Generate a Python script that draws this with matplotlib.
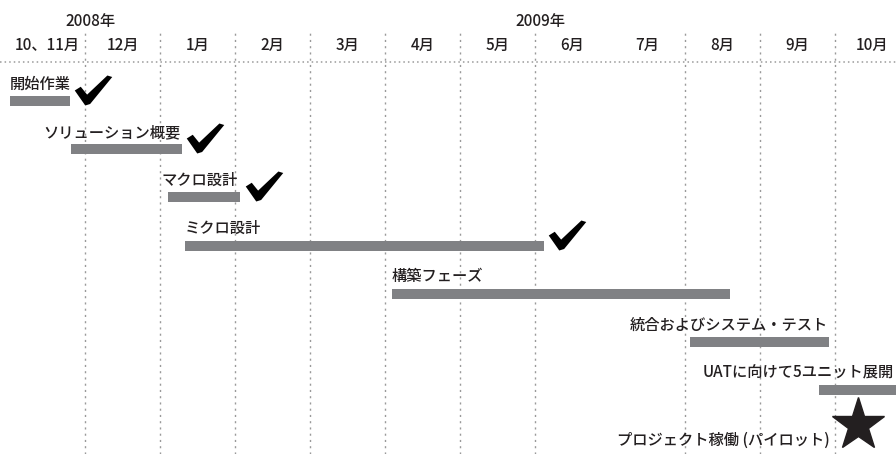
import matplotlib
matplotlib.use('Agg')
import matplotlib.pyplot as plt
from matplotlib.path import Path

plt.rcParams['font.family'] = ['Noto Sans CJK JP', 'DejaVu Sans']

# month columns (x = months since start of "10、11月" column)
months = ['10、11月', '12月', '1月', '2月', '3月', '4月', '5月', '6月', '7月', '8月', '9月', '10月']
years = ['2008年', '2009年']
year_pos = [1.07, 7.07]
grid_pos = [1, 2, 3, 4, 5, 6, 7, 9, 10, 11]

tasks = ['開始作業', 'ソリューション概要', 'マクロ設計', 'ミクロ設計', '構築フェーズ',
         '統合およびシステム・テスト', 'UATに向けて5ユニット展開']
start = [0.0, 0.81, 2.11, 2.33, 5.09, 9.07, 10.79]
end = [0.80, 2.29, 3.07, 7.12, 9.60, 10.92, 12.3]
done = [True, True, True, True, False, False, False]
label_side = ['left', 'right', 'left', 'left', 'left', 'right', 'left']

milestone = 'プロジェクト稼働 (パイロット)'
milestone_x = 11.31

# brush-like tick mark (wider than tall)
check = Path([(-0.50, 0.00), (-0.34, 0.10), (-0.17, -0.11), (0.37, 0.40),
              (0.50, 0.36), (-0.09, -0.36), (-0.22, -0.40), (-0.50, 0.00)],
             [Path.MOVETO] + [Path.LINETO] * 6 + [Path.CLOSEPOLY])

fig = plt.figure(figsize=(8.96, 4.54), dpi=100)
ax = fig.add_axes([0, 0, 1, 1])
ax.set_xlim(-10 / 75, 886 / 75)
ax.set_ylim(353 / 48.2, -101 / 48.2)
ax.axis('off')

txt = '#231f20'
bar_col = '#808184'
grid_col = '#9a9a9a'
fs = 11

# header
xt = ax.get_xaxis_transform()
for i, m in enumerate(months):
    ax.text(i + 0.5, 0.899, m, transform=xt, ha='center', va='center',
            fontsize=fs, color=txt, fontweight='medium')
for y, p in zip(years, year_pos):
    ax.text(p, 0.952, y, transform=xt, ha='center', va='center',
            fontsize=fs, color=txt, fontweight='medium')
ax.plot([0, 1], [0.863, 0.863], transform=ax.transAxes, color=grid_col,
        lw=1.1, ls=(0, (1, 2)))
for g in grid_pos:
    ax.plot([g, g], [0, 0.927], transform=xt, color=grid_col, lw=1.0, ls=(0, (1.5, 3)))

# bars
for i, (t, s, e, d, side) in enumerate(zip(tasks, start, end, done, label_side)):
    ax.barh(i, e - s, left=s, height=0.21, color=bar_col, zorder=3)
    if i == 6:
        ax.text(9.24, i - 0.35, t, ha='left', va='center', fontsize=fs,
                color=txt, fontweight='medium')
    elif side == 'left':
        lx = s - 0.09 if i == 2 else s
        ax.text(lx, i - 0.35, t, ha='left', va='center', fontsize=fs,
                color=txt, fontweight='medium')
    else:
        ax.text(e - 0.02, i - 0.35, t, ha='right', va='center', fontsize=fs,
                color=txt, fontweight='medium')
    if d:
        ax.plot(e + 0.31, i - 0.23, marker=check, markersize=27, color='black',
                markeredgewidth=0, zorder=4)

# milestone
ax.plot(milestone_x, 6.72, marker='*', markersize=40, color=txt, zorder=4)
ax.text(milestone_x - 0.38, 7.03, milestone, ha='right', va='center',
        fontsize=fs, color=txt, fontweight='medium')

fig.savefig('out.png', dpi=100)
